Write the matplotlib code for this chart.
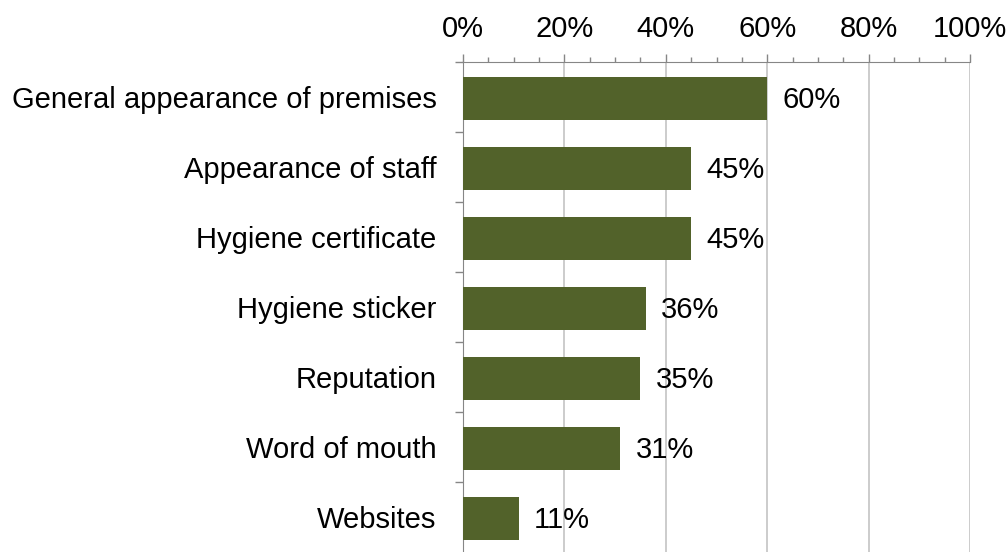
import numpy as np
import matplotlib.pyplot as plt
from matplotlib.ticker import MultipleLocator, FuncFormatter

categories = ['General appearance of premises', 'Appearance of staff', 'Hygiene certificate',
              'Hygiene sticker', 'Reputation', 'Word of mouth', 'Websites']
values = [60, 45, 45, 36, 35, 31, 11]

plt.rcParams['font.family'] = ['Liberation Sans', 'DejaVu Sans']
fs = 21

fig = plt.figure(figsize=(10.08, 5.52), dpi=100)
ax = fig.add_axes([463 / 1008, 0.0, 507 / 1008, 1 - 62 / 552])

y = np.arange(len(categories))
ax.barh(y + 0.02, values, height=0.62, color='#52622a', zorder=3)
for yi, v in zip(y, values):
    ax.text(v + 3, yi + 0.04, f'{v}%', va='center', ha='left', fontsize=fs, zorder=4)

ax.set_xlim(0, 100)
ax.set_ylim(len(categories) - 0.5, -0.5)

ax.xaxis.tick_top()
ax.xaxis.set_major_locator(MultipleLocator(20))
ax.xaxis.set_minor_locator(MultipleLocator(5))
ax.xaxis.set_major_formatter(FuncFormatter(lambda v, p: f'{v:.0f}%'))
ax.tick_params(axis='x', which='major', length=6, width=1, color='#868686',
               labelsize=fs, pad=8)
ax.tick_params(axis='x', which='minor', length=3.5, width=1, color='#868686')
ax.grid(axis='x', which='major', color='#c4c4c4', linewidth=1.2, zorder=0)

ax.set_yticks(y)
ax.set_yticklabels(categories)
ax.set_yticks(np.arange(len(categories)) - 0.5, minor=True)
ax.tick_params(axis='y', which='major', length=0, labelsize=fs, pad=19)
ax.tick_params(axis='y', which='minor', length=6, width=1, color='#868686')

for s in ['right', 'bottom']:
    ax.spines[s].set_visible(False)
ax.spines['top'].set_color('#868686')
ax.spines['left'].set_color('#868686')

fig.savefig('out.png', dpi=100)
